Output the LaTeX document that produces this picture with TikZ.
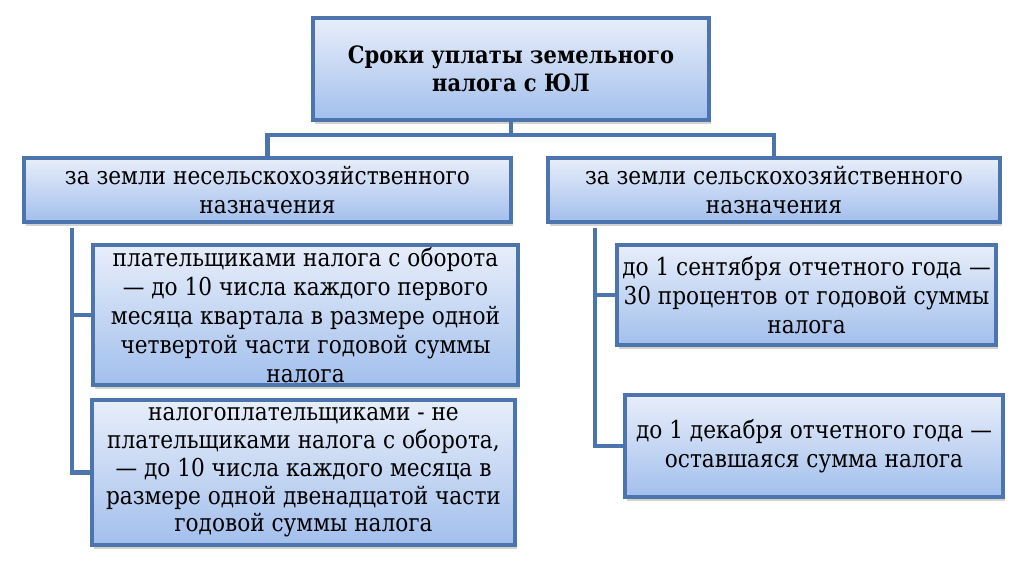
\documentclass[tikz,border=0pt]{standalone}
\usepackage{fontspec}
\setmainfont{DejaVu Serif}[FakeStretch=0.88]
\usetikzlibrary{shadows}
\definecolor{boxline}{HTML}{4C74AD}
\definecolor{boxtop}{HTML}{E8EEFA}
\definecolor{boxbot}{HTML}{A2BFEC}
\tikzset{
  tbox/.style={draw=boxline,line width=1.8pt,top color=boxtop,bottom color=boxbot,
    align=center,inner sep=1pt,font=\fontsize{14}{16.5}\selectfont,
    drop shadow={opacity=0.35,shadow xshift=1pt,shadow yshift=-2pt}},
  link/.style={draw=boxline,line width=2.4pt}
}
\begin{document}
\begin{tikzpicture}
  \useasboundingbox (0,0) rectangle (20.48,11.48);
  \path
  (10.22,10.10) node[tbox,minimum width=7.92cm,minimum height=2.04cm,font=\fontsize{13.6}{16}\selectfont\bfseries](title)
    {Сроки уплаты земельного\\налога с ЮЛ}

  (5.35,7.68)   node[tbox,minimum width=9.74cm,minimum height=1.28cm](lefthdr)
    {за земли несельскохозяйственного\\назначения}
  (15.48,7.68)  node[tbox,minimum width=9.04cm,minimum height=1.28cm](righthdr)
    {за земли сельскохозяйственного\\назначения}

  (6.11,5.18)   node[tbox,minimum width=8.50cm,minimum height=2.80cm](left1)
    {плательщиками налога с оборота\\— до 10 числа каждого первого\\месяца квартала в размере одной\\четвертой части годовой суммы\\налога}
  (6.07,2.03)   node[tbox,minimum width=8.46cm,minimum height=2.90cm,font=\fontsize{14}{15.8}\selectfont](left2)
    {налогоплательщиками - не\\плательщиками налога с оборота,\\— до 10 числа каждого месяца в\\размере одной двенадцатой части\\годовой суммы налога}

  (16.13,5.58)  node[tbox,minimum width=7.58cm,minimum height=2.00cm](right1)
    {до 1 сентября отчетного года —\\30 процентов от годовой суммы\\налога}
  (16.28,2.56)  node[tbox,minimum width=7.56cm,minimum height=2.04cm](right2)
    {до 1 декабря отчетного года —\\оставшаяся сумма налога}
  ;

  \coordinate (split) at (10.22,8.78);
  \coordinate (lbus) at (1.44,6.92);
  \coordinate (rbus) at (11.90,6.92);

  \draw[link] (title.south) -- (split);
  \draw[link] (split) -| (lefthdr.north);
  \draw[link] (split) -| (righthdr.north);

  \draw[link] (lbus) |- (left2.west);
  \draw[link] (lbus |- left1.west) -- (left1.west);
  \draw[link] (rbus) |- (right2.west);
  \draw[link] (rbus |- right1.west) -- (right1.west);

\end{tikzpicture}
\end{document}
